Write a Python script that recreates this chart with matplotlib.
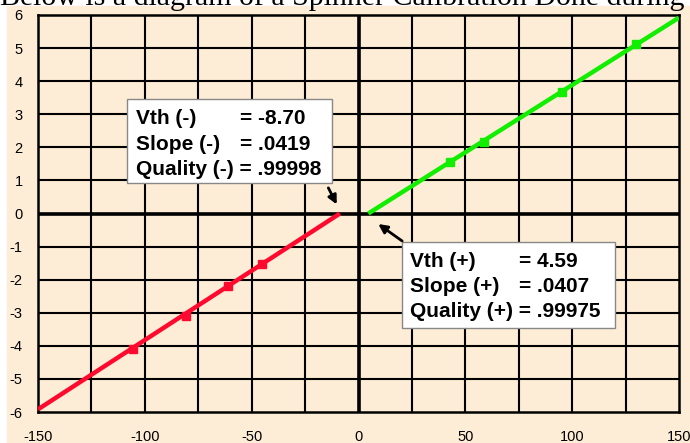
import matplotlib
matplotlib.use('Agg')
import matplotlib.pyplot as plt
from matplotlib.patches import Rectangle

neg_x = [-105.5, -80.7, -61.1, -45.2]
neg_y = [-4.09, -3.10, -2.19, -1.53]
pos_x = [42.8, 58.7, 95.2, 129.9]
pos_y = [1.56, 2.16, 3.67, 5.12]

# fitted lines, end points
neg_line_x = [-150, -8.70]
neg_line_y = [-5.92, 0]
pos_line_x = [4.59, 150]
pos_line_y = [0, 5.92]

neg_labels = ['Vth (-)', 'Slope (-)', 'Quality (-)']
neg_values = ['= -8.70', '= .0419', '= .99998']
pos_labels = ['Vth (+)', 'Slope (+)', 'Quality (+)']
pos_values = ['= 4.59', '= .0407', '= .99975']

x_ticks = [-150, -100, -50, 0, 50, 100, 150]
y_ticks = list(range(-6, 7))

tan = '#FDEDD6'
red = '#FF0A2E'
green = '#11EE00'

plt.rcParams['font.family'] = ['Liberation Sans', 'DejaVu Sans']
plt.rcParams['axes.unicode_minus'] = False

fig = plt.figure(figsize=(6.9, 4.43), dpi=100)
fig.patches.append(Rectangle((7 / 690, 0), 1, 1 - 6 / 443, transform=fig.transFigure,
                             color=tan, zorder=-5))
fig.text(0.0, 1 - 5 / 443, 'Below is a diagram of a Spinner Calibration Done during the',
         family='Liberation Serif', fontsize=21.5, va='baseline', ha='left', zorder=5)

ax = fig.add_axes([38 / 690, 31 / 443, 641 / 690, 397 / 443])
ax.set_facecolor(tan)
ax.set_xlim(-150, 150)
ax.set_ylim(-6, 6)

# grid every 25 in x, every 1 in y
for gx in range(-125, 150, 25):
    ax.axvline(gx, color='black', lw=1.5, zorder=1)
for gy in range(-5, 6):
    ax.axhline(gy, color='black', lw=1.5, zorder=1)
ax.axvline(0, color='black', lw=2.6, zorder=1.5)
ax.axhline(0, color='black', lw=2.6, zorder=1.5)
for s in ax.spines.values():
    s.set_linewidth(1.8)

ax.plot(neg_line_x, neg_line_y, color=red, lw=3.2, solid_capstyle='butt', zorder=3)
ax.plot(neg_x, neg_y, 's', color=red, ms=6, zorder=3)
ax.plot(pos_line_x, pos_line_y, color=green, lw=3.2, solid_capstyle='butt', zorder=3)
ax.plot(pos_x, pos_y, 's', color=green, ms=6, zorder=3)

ax.set_xticks(x_ticks)
ax.set_yticks(y_ticks)
ax.tick_params(length=0, labelsize=10.5)
ax.tick_params(axis='y', pad=11)
ax.tick_params(axis='x', pad=13)


def info_box(x0, y0, x1, y1, lab_x, val_x, rows, labels, values):
    ax.add_patch(Rectangle((x0, y0), x1 - x0, y1 - y0, facecolor='white',
                           edgecolor='#888888', lw=1, zorder=4))
    for ry, lab, val, i in zip(rows, labels, values, range(3)):
        if i < 2:
            ax.text(lab_x, ry, lab, fontsize=15, fontweight='bold', va='center', zorder=5)
            ax.text(val_x, ry, val, fontsize=15, fontweight='bold', va='center', zorder=5)
        else:
            ax.text(lab_x, ry, lab + ' ' + val, fontsize=15, fontweight='bold',
                    va='center', zorder=5)


info_box(-108.3, 0.92, -12.4, 3.46, -104.1, -55.5, [2.86, 2.08, 1.32], neg_labels, neg_values)
info_box(20.4, -3.46, 120.0, -0.86, 24.1, 75.1, [-1.45, -2.21, -2.97], pos_labels, pos_values)

arrow = dict(arrowstyle='-|>', lw=2, color='black', mutation_scale=13)
ax.annotate('', xy=(-9.6, 0.20), xytext=(-14.7, 0.85), arrowprops=arrow, zorder=5)
ax.annotate('', xy=(8.2, -0.27), xytext=(21.5, -0.88), arrowprops=arrow, zorder=5)

fig.savefig('out.png', dpi=100)
